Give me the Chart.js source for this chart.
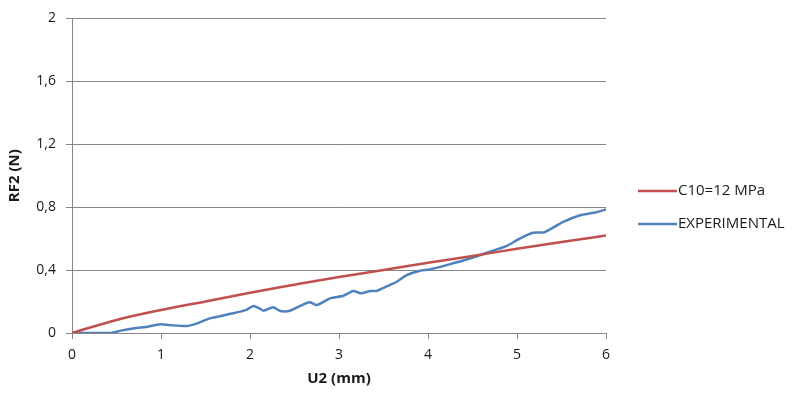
<!DOCTYPE html>
<html>
<head>
<meta charset="utf-8">
<script src="https://cdn.jsdelivr.net/npm/chart.js@4/dist/chart.umd.min.js"></script>
<style>
  html, body { margin: 0; padding: 0; background: #ffffff; }
  #wrap { width: 793px; height: 396px; position: relative; }
</style>
</head>
<body>
<div id="wrap"><canvas id="c" width="793" height="396"></canvas></div>
<script>
// Model curve (C10 = 12 MPa): displacement U2 (mm) and reaction force RF2 (N)
const modelU  = [0, 0.5, 1, 1.5, 2, 2.5, 3, 3.5, 4, 4.5, 5, 5.5, 6];
const modelRF = [0, 0.083, 0.146, 0.20, 0.256, 0.307, 0.356, 0.40, 0.447, 0.49, 0.535, 0.578, 0.62];

// Experimental measurement
const expU  = [0, 0.43, 0.55, 0.7, 0.85, 0.99, 1.1, 1.29, 1.4, 1.55, 1.81, 1.95, 2.04, 2.1, 2.15, 2.26,
               2.34, 2.45, 2.56, 2.67, 2.75, 2.9, 3.05, 3.16, 3.25, 3.35, 3.42, 3.57, 3.65, 3.76, 3.91,
               4.02, 4.25, 4.47, 4.66, 4.88, 5.03, 5.18, 5.3, 5.37, 5.52, 5.71, 5.86, 6.0];
const expRF = [0, 0, 0.015, 0.03, 0.04, 0.055, 0.05, 0.044, 0.06, 0.093, 0.125, 0.145, 0.171, 0.158, 0.142, 0.163,
               0.14, 0.142, 0.171, 0.195, 0.178, 0.22, 0.237, 0.267, 0.252, 0.267, 0.267, 0.305, 0.326, 0.368, 0.396,
               0.404, 0.438, 0.474, 0.51, 0.552, 0.60, 0.637, 0.639, 0.658, 0.707, 0.749, 0.764, 0.785];

const seriesNames = ['C10=12 MPa', 'EXPERIMENTAL'];
const seriesColors = ['#C0504D', '#4F81BD'];

const FONT = '"Open Sans", "Liberation Sans", sans-serif';
const GRID = '#868686';
const TEXT = '#1a1a1a';

const toPoints = (xs, ys) => xs.map((x, i) => ({ x: x, y: ys[i] }));

// Legend drawn to the right of the plot area
const sideLegend = {
  id: 'sideLegend',
  afterDraw(chart) {
    const ctx = chart.ctx;
    const x0 = 638, lineLen = 39, rows = [191, 224];
    ctx.save();
    ctx.font = '15px ' + FONT;
    ctx.textBaseline = 'middle';
    chart.data.datasets.forEach((ds, i) => {
      const y = rows[i];
      ctx.strokeStyle = ds.borderColor;
      ctx.lineWidth = 2.5;
      ctx.beginPath();
      ctx.moveTo(x0, y);
      ctx.lineTo(x0 + lineLen, y);
      ctx.stroke();
      ctx.fillStyle = TEXT;
      ctx.fillText(ds.label, x0 + lineLen + 1, y);
    });
    ctx.restore();
  }
};

new Chart(document.getElementById('c'), {
  type: 'scatter',
  data: {
    datasets: [
      {
        label: seriesNames[0],
        data: toPoints(modelU, modelRF),
        showLine: true,
        borderColor: seriesColors[0],
        backgroundColor: seriesColors[0],
        borderWidth: 2.5,
        pointRadius: 0,
        cubicInterpolationMode: 'monotone'
      },
      {
        label: seriesNames[1],
        data: toPoints(expU, expRF),
        showLine: true,
        borderColor: seriesColors[1],
        backgroundColor: seriesColors[1],
        borderWidth: 2.5,
        pointRadius: 0,
        tension: 0.2
      }
    ]
  },
  options: {
    responsive: false,
    animation: false,
    layout: { padding: { top: 18, right: 187, bottom: 0, left: 0 } },
    plugins: {
      legend: { display: false },
      tooltip: { enabled: false }
    },
    scales: {
      x: {
        type: 'linear',
        min: 0, max: 6,
        afterFit: (s) => { s.height = 63; },
        ticks: { stepSize: 1, color: TEXT, font: { family: FONT, size: 14 }, padding: 8 },
        grid: { drawOnChartArea: false, drawTicks: true, tickLength: 6, color: GRID, tickColor: GRID },
        border: { color: GRID, width: 1 },
        title: { display: true, text: 'U2 (mm)', color: TEXT, font: { family: FONT, size: 15, weight: 'bold' }, padding: { top: 0, bottom: 8 } }
      },
      y: {
        min: 0, max: 2,
        afterFit: (s) => { s.width = 72; },
        ticks: {
          stepSize: 0.4,
          color: TEXT,
          font: { family: FONT, size: 14 },
          padding: 10,
          callback: (v) => (Math.round(v * 10) / 10).toString().replace('.', ',')
        },
        grid: { color: GRID, tickColor: GRID, tickLength: 6, lineWidth: 1 },
        border: { color: GRID, width: 1 },
        title: { display: true, text: 'RF2 (N)', color: TEXT, font: { family: FONT, size: 15, weight: 'bold' }, padding: { top: 6, bottom: 0 } }
      }
    }
  },
  plugins: [sideLegend]
});
</script>
</body>
</html>
